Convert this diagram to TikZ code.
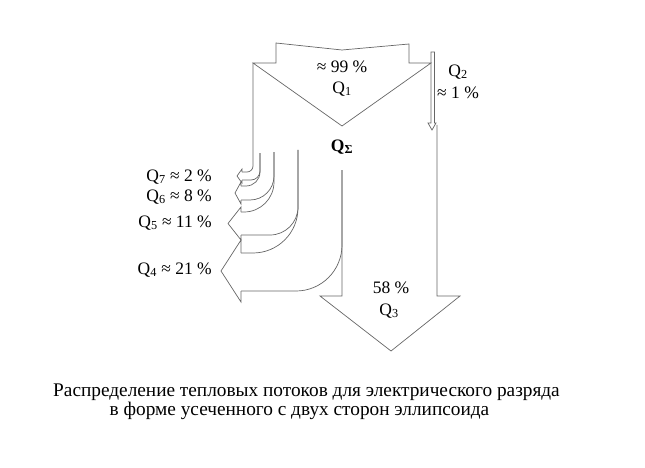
\documentclass[tikz,border=0pt]{standalone}
\usepackage{fontspec}
\setmainfont{Liberation Serif}
\usetikzlibrary{positioning}

\tikzset{
  flow/.style={draw=black!60, line width=0.7pt},
  lbl/.style={inner sep=0pt, font=\fontsize{17.5}{20}\selectfont},
  capt/.style={inner sep=0pt, anchor=base, font=\fontsize{19.3}{22}\selectfont},
}

\begin{document}
\begin{tikzpicture}[x=1pt,y=-1pt]
\useasboundingbox (0,0) rectangle (645,468);

% incoming flow Q1
\draw[flow] (253,63) -- (276,63) -- (276,43) -- (342,50) -- (409,44) -- (409,63)
  -- (431,63) -- (342,126) -- cycle;

% thin flow Q2
\draw[flow] (431,52) -- (431,123) -- (428,123) -- (432,130) -- (436,123)
  -- (434.5,123) -- (434.5,52) -- cycle;

% main flow Q3
\draw[flow] (342,170) -- (342,296) -- (320,296) -- (391,351) -- (460,296)
  -- (437,296) -- (437,125);

% Q7
\draw[flow,rounded corners=6] (253,63) -- (253,172) -- (242,172);
\draw[flow,rounded corners=9] (260,153) -- (260,180) -- (242,180);
\draw[flow] (242,172) -- (242,169) -- (237,176) -- (242,183) -- (242,180);

% Q6
\draw[flow,rounded corners=14] (260,153) -- (260,186) -- (241,186);
\draw[flow,rounded corners=24] (274,152) -- (274,200) -- (241,200);
\draw[flow] (241,186) -- (241,182) -- (235,193) -- (241,204) -- (241,200);

% Q5
\draw[flow,rounded corners=30] (274,152) -- (274,212) -- (241,212);
\draw[flow,rounded corners=28] (298,150) -- (298,235) -- (241,235);
\draw[flow] (241,212) -- (241,207) -- (228,223.5) -- (241,240) -- (241,235);

% Q4
\draw[flow,rounded corners=45] (298,150) -- (298,253) -- (241,253);
\draw[flow,rounded corners=46] (342,170) -- (342,291) -- (241,291);
\draw[flow] (241,253) -- (241,240) -- (221,271) -- (241,302) -- (241,291);

\node[lbl] (q1pct) at (342,67) {≈ 99 \%};
\node[lbl] (q1) at (342,89) {Q\textsubscript{1}};
\node[lbl,font=\fontsize{17.5}{20}\selectfont\bfseries] (qsum) at (342,147) {Q\textsubscript{Σ}};
\node[lbl] (q2) at (458,72) {Q\textsubscript{2}};
\node[lbl] (q2pct) at (458,93) {≈ 1 \%};

\node[lbl,anchor=east] (q7) at (212,177) {Q\textsubscript{7} ≈ 2 \%};
\node[lbl,anchor=east] (q6) at (212,197) {Q\textsubscript{6} ≈ 8 \%};
\node[lbl,anchor=east] (q5) at (212,223) {Q\textsubscript{5} ≈ 11 \%};
\node[lbl,anchor=east] (q4) at (212,270) {Q\textsubscript{4} ≈ 21 \%};

\node[lbl] (q3pct) at (391,288) {58 \%};
\node[lbl] (q3) at (389,311) {Q\textsubscript{3}};

\node[capt] (cap1) at (306.5,396) {Распределение тепловых потоков для электрического разряда};
\node[capt] (cap2) at (299.5,415.5) {в форме усеченного с двух сторон эллипсоида};

\end{tikzpicture}
\end{document}
